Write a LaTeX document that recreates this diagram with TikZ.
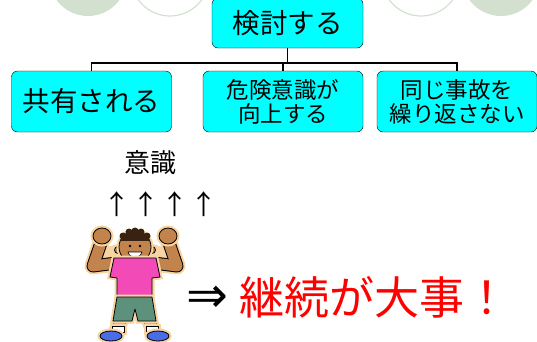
\documentclass[tikz,border=0pt]{standalone}
\usepackage{fontspec}
\newfontfamily\jp{Noto Sans CJK JP}
\newfontfamily\sym{DejaVu Sans}
\definecolor{tuerkis}{HTML}{00FFFF}
\definecolor{kreis}{HTML}{D3E0D0}
\definecolor{hell}{HTML}{F6D4A4}
\definecolor{haut}{HTML}{C2844C}
\definecolor{haar}{HTML}{3A2212}
\definecolor{hemd}{HTML}{F24AB6}
\definecolor{hose}{HTML}{5E917B}
\definecolor{schuh}{HTML}{4A6DE6}
\begin{document}
\begin{tikzpicture}[x=1pt,y=-1pt,
        k/.style ={draw, fill=tuerkis, rounded corners=6pt, minimum width=160pt, minimum height=61pt,
                   inner sep=0pt, align=center, font=\jp\fontsize{22.5}{24}\selectfont},
        kg/.style={k, font=\jp\fontsize{27.5}{30}\selectfont},
        f/.style ={draw=black, line width=0.8pt, line join=round, preaction={draw=hell, line width=5pt}}]
        \useasboundingbox (0,0) rectangle (537,341);
        \foreach \x in {88,501}  {\fill[kreis] (\x,-23) circle (39pt);}
        \foreach \x in {170,421} {\draw[kreis, line width=1.2pt] (\x,-23) circle (39pt);}
        \node[kg, minimum width=151pt, minimum height=50pt] (t) at (287.5,23) {検討する};
        \node[kg] (c0) at (91.5,101.5) {共有される};
        \foreach \x/\l [count=\i from 1] in {283/{危険意識が\\向上する}, 457/{同じ事故を\\繰り返さない}}
            {\node[k] (c\i) at (\x,101.5) {\l};}
% Baum: Stamm, Querbalken, Abzweige
        \coordinate (v) at (287.5,63);
        \draw[line width=1.1pt] (t.south) -- (v);
        \draw[line width=1.1pt] (c0.north) |- (v) -| (c2.north);
        \draw[line width=1.1pt] (c1.north) -- (c1.north |- v);
        \node[font=\jp\fontsize{26}{30}\selectfont] (bw) at (150,163) {意識};
        \foreach \x [count=\i] in {117,146,175,204} {\node[font=\jp\fontsize{27}{30}\selectfont] (p\i) at (\x,204) {↑};}
% Figur
        \fill[hell] (96,250) -- (118,244) -- (152,244) -- (174,250) -- (176,269) -- (94,269) -- cycle;
        \foreach \a/\b/\c in {116/93/102, 154/177/168}
            {\foreach \fb/\w in {hell/17, black/13, haut/11}
                {\draw[\fb, line width=\w pt, line cap=round, line join=round] (\a,263) -- (\b,266) -- (\c,240);}
             \path[f, fill=haut] (\c,236) ellipse (9pt and 8pt);}
        \foreach \x in {118,152} {\path[f, fill=haut] (\x,250) circle (3.5pt);}
        \path[f, fill=haut] (135,247) circle (16pt);
        \begin{scope}
            \clip (135,247) circle (16pt);
            \fill[haar] (110,220) rectangle (160,241);
        \end{scope}
        \foreach \x/\y in {123/236,129/232,135/231,141/232,147/236} {\fill[haar] (\x,\y) circle (3.5pt);}
        \foreach \x in {130,140} {\fill (\x,246) circle (1.3pt);}
        \filldraw[fill=white, line width=0.6pt] (128,252) .. controls (130,259) and (140,259) .. (142,252) -- cycle;
        \path[f, fill=hemd] (114,258) -- (156,258) -- (160,277) -- (152,278) -- (152,298) -- (117,298) -- (117,278) -- (110,277) -- cycle;
        \path[f, fill=haut] (115,320) -- (127,320) -- (124,327) -- (112,327) -- cycle;
        \path[f, fill=haut] (143,320) -- (155,320) -- (158,327) -- (146,327) -- cycle;
        \path[f, fill=white] (112,326) rectangle (124,332);
        \path[f, fill=white] (146,326) rectangle (158,332);
        \path[f, fill=hose] (117,297) -- (152,297) -- (156,321) -- (138,321) -- (135,309) -- (132,321) -- (113,321) -- cycle;
        \path[f, fill=schuh] (111,336) ellipse (11pt and 5pt);
        \path[f, fill=schuh] (158,336) ellipse (11pt and 5pt);
        \node[font=\sym\fontsize{50}{52}\selectfont] (z) at (207,299) {⇒};
        \node[anchor=west, inner sep=0pt, text=red, font=\jp\fontsize{45}{50}\selectfont] (m) at (239,297) {継続が大事！};
    \end{tikzpicture}
\end{document}
